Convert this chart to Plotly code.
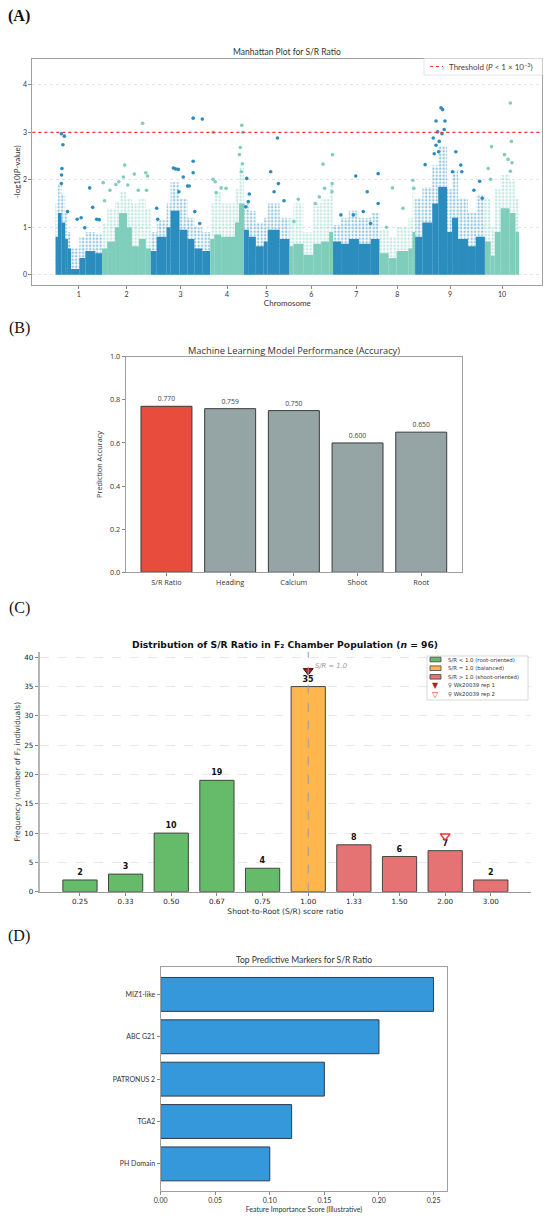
import plotly.graph_objects as go

W, H = 550, 1221


def fx(p):
    return p / W


def fy(p):
    return 1 - p / H


SANS = "Lato, 'Open Sans', sans-serif"
OPEN = "'Open Sans', sans-serif"
DJV = "'DejaVu Sans', sans-serif"
SERIF = "'Liberation Serif', 'DejaVu Serif', serif"

# ---------------- Panel A : Manhattan plot ----------------
chrom_labels = ["1", "2", "3", "4", "5", "6", "7", "8", "9", "10"]
chrom_lengths = [234, 246.5, 299.5, 170.5, 229, 220, 234, 180, 352, 172.5]

# cumulative-position segments of the dense SNP cloud (start, end, dense top, sparse top)
seg_start = [0, 12, 30, 48, 62, 78, 120, 150, 200,
             234, 260, 300, 320, 360, 385, 420, 455,
             480.5, 510, 560, 580, 625, 665, 700, 740,
             780, 800, 835, 905, 925,
             950.5, 975, 1010, 1050, 1070, 1130,
             1179.5, 1200, 1250, 1300, 1340, 1380,
             1399.5, 1440, 1480, 1530, 1590,
             1633.5, 1680, 1720, 1780, 1800,
             1813.5, 1850, 1900, 1930, 1975, 2000, 2030, 2080, 2120,
             2165.5, 2195, 2215, 2245, 2290, 2320]
seg_end = [12, 30, 48, 62, 78, 120, 150, 200, 234,
           260, 300, 320, 360, 385, 420, 455, 480.5,
           510, 560, 580, 625, 665, 700, 740, 780,
           800, 835, 905, 925, 950.5,
           975, 1010, 1050, 1070, 1130, 1179.5,
           1200, 1250, 1300, 1340, 1380, 1399.5,
           1440, 1480, 1530, 1590, 1633.5,
           1680, 1720, 1780, 1800, 1813.5,
           1850, 1900, 1930, 1975, 2000, 2030, 2080, 2120, 2165.5,
           2195, 2215, 2245, 2290, 2320, 2338]
seg_dense = [0.8, 1.3, 1.1, 0.75, 0.55, 0.12, 0.35, 0.5, 0.45,
             0.55, 0.7, 1.0, 1.3, 1.0, 0.6, 0.75, 0.55,
             0.5, 0.8, 1.0, 1.35, 0.95, 0.75, 0.55, 0.5,
             0.75, 0.85, 0.8, 1.1, 1.5,
             0.95, 0.8, 0.6, 0.7, 0.95, 0.75,
             0.6, 0.65, 0.42, 0.65, 0.7, 0.9,
             0.7, 0.65, 0.75, 0.65, 0.75,
             0.45, 0.35, 0.5, 0.55, 0.9,
             0.8, 1.1, 1.5, 1.85, 0.9, 1.2, 0.75, 0.6, 0.8,
             0.7, 0.4, 0.9, 1.4, 1.3, 0.9]
seg_sparse = [1.5, 1.9, 1.7, 1.3, 0.9, 0.55, 0.8, 0.9, 0.85,
              1.1, 1.4, 1.55, 1.75, 1.6, 1.5, 1.6, 1.4,
              0.9, 1.15, 1.5, 1.95, 1.6, 1.2, 1.0, 0.9,
              1.5, 1.75, 1.5, 1.8, 2.3,
              1.5, 1.35, 1.1, 1.2, 1.5, 1.2,
              1.2, 1.5, 0.9, 1.5, 1.6, 1.9,
              1.05, 1.2, 1.35, 1.2, 1.3,
              0.95, 0.8, 1.0, 1.2, 1.9,
              1.6, 1.85, 2.3, 2.7, 1.8, 2.2, 1.6, 1.3, 1.7,
              1.6, 1.0, 1.8, 2.1, 2.0, 1.6]

# individually visible SNPs above the cloud
snp_pos = [29, 44, 37, 32, 30, 29, 60, 109, 129, 147, 172, 187, 207, 220,
           439, 349, 342, 397, 455, 464, 240, 319, 304, 364, 274, 417, 459, 247,
           694, 740, 694, 594, 605, 619, 694, 644, 665, 674, 622, 510, 515, 702, 727,
           939, 795, 944, 932, 927, 942, 937, 794, 805, 835, 860, 810,
           1119, 964, 1085, 1124, 977, 1102, 972, 959, 1152,
           1397, 1349, 1395, 1357, 1330, 1310, 1224, 1202, 1394,
           1514, 1627, 1572, 1552, 1627, 1439, 1502, 1589,
           1699, 1669, 1752, 1802, 1807,
           1955, 1944, 1952, 1919, 1964, 1960, 1927, 1949, 1905, 1935, 1919,
           1932, 1910, 2019, 1864, 2044, 2002, 2049, 2139, 2110, 2152,
           2294, 2299, 2199, 2264, 2282, 2302, 2294, 2182, 2194]
snp_logp = [2.97, 2.92, 2.74, 2.24, 2.10, 1.92, 1.33, 1.17, 1.20, 0.99, 1.83, 1.42, 1.17, 1.16,
            3.19, 2.31, 2.06, 2.12, 2.15, 2.08, 1.94, 1.96, 1.90, 1.89, 1.78, 1.78, 1.78, 1.56,
            3.30, 3.28, 2.39, 2.25, 2.23, 2.22, 2.15, 2.06, 1.87, 1.87, 1.75, 1.40, 1.17, 1.33, 1.08,
            3.15, 3.00, 3.00, 2.68, 2.53, 2.34, 2.17, 2.01, 1.96, 1.83, 1.82, 1.73,
            2.88, 2.03, 2.17, 1.92, 1.70, 1.75, 1.54, 1.43, 1.56,
            2.53, 2.33, 1.92, 1.82, 1.64, 1.50, 1.59, 1.12, 1.75,
            2.08, 2.13, 1.75, 1.33, 1.50, 1.26, 1.26, 1.08,
            1.83, 1.00, 1.40, 1.99, 1.82,
            4.34, 3.52, 3.48, 3.24, 3.24, 3.06, 3.01, 2.97, 2.88, 2.81, 2.73,
            2.59, 2.55, 2.59, 2.32, 2.31, 2.17, 2.17, 1.97, 1.78, 1.61,
            3.62, 2.81, 2.70, 2.53, 2.43, 2.36, 2.18, 2.24, 2.01]
threshold_logp = 3.0

# ---------------- Panel B : ML accuracy ----------------
ml_traits = ["S/R Ratio", "Heading", "Calcium", "Shoot", "Root"]
ml_accuracy = [0.770, 0.759, 0.750, 0.600, 0.650]

# ---------------- Panel C : S/R distribution ----------------
sr_labels = ["0.25", "0.33", "0.50", "0.67", "0.75", "1.00", "1.33", "1.50", "2.00", "3.00"]
sr_counts = [2, 3, 10, 19, 4, 35, 8, 6, 7, 2]
rep_labels = ["1.00", "2.00"]
rep_y = [37.7, 9.5]

# ---------------- Panel D : marker importance ----------------
marker_names = ["MIZ1-like", "ABC G21", "PATRONUS 2", "TGA2", "PH Domain"]
marker_importance = [0.25, 0.20, 0.15, 0.12, 0.10]

# ======================================================
BLUE, TEAL = "#2b8cbe", "#7fcdbb"
bounds = [0]
for L in chrom_lengths:
    bounds.append(bounds[-1] + L)
chrom_centers = [(bounds[i] + bounds[i + 1]) / 2 for i in range(len(chrom_lengths))]


def ccol(p):
    for i in range(len(chrom_lengths)):
        if p < bounds[i + 1]:
            return BLUE if i % 2 == 0 else TEAL
    return TEAL


fig = go.Figure()

seg_mid = [(s + e) / 2 for s, e in zip(seg_start, seg_end)]
seg_w = [e - s for s, e in zip(seg_start, seg_end)]
seg_col = [ccol(m) for m in seg_mid]
fig.add_trace(go.Bar(x=seg_mid, y=seg_sparse, width=seg_w,
                     marker=dict(color="rgba(0,0,0,0)", line=dict(width=0),
                                 pattern=dict(shape=".", fgcolor=seg_col, size=3.5, solidity=0.4,
                                              fillmode="overlay")),
                     xaxis="x", yaxis="y", showlegend=False, hoverinfo="skip"))
fig.add_trace(go.Bar(x=seg_mid, y=seg_dense, width=seg_w,
                     marker=dict(color=seg_col, line=dict(width=0)),
                     xaxis="x", yaxis="y", showlegend=False, hoverinfo="skip"))
fig.add_trace(go.Scatter(x=snp_pos, y=snp_logp, mode="markers",
                         marker=dict(size=3.6, color=[ccol(p) for p in snp_pos], line=dict(width=0)),
                         xaxis="x", yaxis="y", showlegend=False))

# Panel B
b_colors = ["#e74c3c"] + ["#95a5a6"] * (len(ml_traits) - 1)
fig.add_trace(go.Bar(x=list(range(len(ml_traits))), y=ml_accuracy, width=0.8,
                     marker=dict(color=b_colors, line=dict(color="#3a3a3a", width=1)),
                     text=[f"{v:.3f}" for v in ml_accuracy], textposition="outside",
                     textfont=dict(family=OPEN, size=6.8, color="#444"),
                     cliponaxis=False, xaxis="x2", yaxis="y2", showlegend=False))

# Panel C
c_colors = []
for lab in sr_labels:
    v = float(lab)
    c_colors.append("#66bb6a" if v < 1 else ("#ffb74d" if v == 1 else "#e57373"))
fig.add_trace(go.Bar(x=list(range(len(sr_labels))), y=sr_counts, width=0.75,
                     marker=dict(color=c_colors, line=dict(color="#444", width=1)),
                     text=[str(c) for c in sr_counts], texttemplate="<b>%{text}</b>",
                     textposition="outside",
                     textfont=dict(family=DJV, size=8, color="#111"),
                     cliponaxis=False, xaxis="x3", yaxis="y3", showlegend=False))
rep_x = [sr_labels.index(r) for r in rep_labels]
fig.add_trace(go.Scatter(x=[rep_x[0]], y=[rep_y[0]], mode="markers",
                         marker=dict(symbol="triangle-down", size=8.5, color="#b71c1c",
                                     line=dict(color="#4a0000", width=1)),
                         xaxis="x3", yaxis="y3", showlegend=False, cliponaxis=False))
fig.add_trace(go.Scatter(x=[rep_x[1]], y=[rep_y[1]], mode="markers",
                         marker=dict(symbol="triangle-down", size=8.5, color="white",
                                     line=dict(color="#e53935", width=1.5)),
                         xaxis="x3", yaxis="y3", showlegend=False, cliponaxis=False))

# Panel D
n = len(marker_names)
fig.add_trace(go.Bar(y=list(range(n - 1, -1, -1)), x=marker_importance, width=0.8, orientation="h",
                     marker=dict(color="#3498db", line=dict(color="#2c3e50", width=1)),
                     xaxis="x4", yaxis="y4", showlegend=False))

# ---------------- axes ----------------
tickfont = dict(family=SANS, size=7, color="#333")
btickfont = dict(family=OPEN, size=7.3, color="#333")
ctickfont = dict(family=DJV, size=7.2, color="#222")
frame = dict(showline=True, linecolor="#a0a0a0", linewidth=1, mirror=True, automargin=False,
             ticks="outside", ticklen=3, tickcolor="#888", zeroline=False)

fig.update_layout(
    width=W, height=H, margin=dict(l=0, r=0, t=0, b=0, autoexpand=False), autosize=False,
    plot_bgcolor="white", paper_bgcolor="white", barmode="overlay",
    font=dict(family=SANS, color="#333"),
    xaxis=dict(domain=[fx(32.4), fx(542.3)], range=[-117, 2455], anchor="y",
               tickvals=chrom_centers, ticktext=chrom_labels, tickfont=tickfont,
               title=dict(text="Chromosome", font=dict(family=SANS, size=8, color="#333"), standoff=2),
               showgrid=False, **frame),
    yaxis=dict(domain=[fy(285), fy(58.5)], range=[-0.217, 4.557], anchor="x",
               tickvals=[0, 1, 2, 3, 4], tickfont=tickfont,
               title=dict(text="-log10(<i>P</i>-value)", font=dict(family=SANS, size=8, color="#333"), standoff=1),
               showgrid=True, gridcolor="#e4e4e4", griddash="dot", gridwidth=0.8, **frame),
    xaxis2=dict(domain=[fx(125.7), fx(462)], range=[-0.64, 4.64], anchor="y2",
                tickvals=list(range(len(ml_traits))), ticktext=ml_traits, tickfont=btickfont,
                showgrid=False, **frame),
    yaxis2=dict(domain=[fy(572.3), fy(356.7)], range=[0, 1.0], dtick=0.2, tickformat=".1f", anchor="x2",
                tickfont=btickfont,
                title=dict(text="Prediction Accuracy", font=dict(family=OPEN, size=7.3, color="#333"), standoff=6),
                showgrid=False, **frame),
    xaxis3=dict(domain=[fx(39.8), fx(531)], range=[-0.88, 9.88], anchor="y3", automargin=False,
                tickvals=list(range(len(sr_labels))), ticktext=sr_labels, tickfont=ctickfont,
                title=dict(text="Shoot-to-Root (S/R) score ratio", font=dict(family=DJV, size=7.6, color="#333"), standoff=3),
                showline=True, linecolor="#9a9a9a", linewidth=1.2, ticks="outside", ticklen=3,
                tickcolor="#888", showgrid=False, zeroline=False),
    yaxis3=dict(domain=[fy(891.7), fy(651.7)], range=[0, 40.95], dtick=5, tickfont=ctickfont, anchor="x3",
                automargin=False,
                title=dict(text="Frequency (number of F₂ individuals)", font=dict(family=DJV, size=7.6, color="#333"), standoff=3),
                showline=True, linecolor="#b5b5b5", linewidth=2, ticks="outside", ticklen=3,
                tickcolor="#888", showgrid=True, gridcolor="#e8e8e8", griddash="dash", gridwidth=0.8,
                zeroline=False),
    xaxis4=dict(domain=[fx(160.6), fx(447.2)], range=[0, 0.2625], dtick=0.05, tickformat=".2f", anchor="y4",
                tickfont=tickfont,
                title=dict(text="Feature Importance Score (Illustrative)", font=dict(family=SANS, size=7, color="#333"), standoff=3),
                showgrid=False, **frame),
    yaxis4=dict(domain=[fy(1191), fy(967.3)], range=[-0.64, 4.64], anchor="x4",
                tickvals=list(range(n - 1, -1, -1)), ticktext=marker_names, tickfont=tickfont,
                showgrid=False, **frame),
)

# ---------------- shapes ----------------
shapes = []
shapes.append(dict(type="line", xref="x domain", yref="y", x0=0, x1=1, y0=threshold_logp, y1=threshold_logp,
                   line=dict(color="#ff3030", width=1.1, dash="dot"), layer="above"))
shapes.append(dict(type="rect", xref="paper", yref="paper", x0=fx(424), x1=fx(542.3), y0=fy(75), y1=fy(58.5),
                   fillcolor="rgba(255,255,255,0.8)", line=dict(color="#dddddd", width=0.8), layer="above"))
shapes.append(dict(type="line", xref="paper", yref="paper", x0=fx(430), x1=fx(443), y0=fy(66.5), y1=fy(66.5),
                   line=dict(color="#ff3030", width=1.1, dash="dot"), layer="above"))
shapes.append(dict(type="line", xref="x3", yref="y3 domain", x0=sr_labels.index("1.00"), x1=sr_labels.index("1.00"),
                   y0=0, y1=1, line=dict(color="#9a9a9a", width=1, dash="dash"), layer="above"))
shapes.append(dict(type="rect", xref="paper", yref="paper", x0=fx(427), x1=fx(528), y0=fy(700), y1=fy(656),
                   fillcolor="rgba(255,255,255,0.9)", line=dict(color="#d0d0d0", width=0.8), layer="above"))
for yy, col in [(659.5, "#66bb6a"), (668.2, "#ffb74d"), (676.8, "#e57373")]:
    shapes.append(dict(type="rect", xref="paper", yref="paper", x0=fx(430), x1=fx(441), y0=fy(yy + 2.3), y1=fy(yy - 2.3),
                       fillcolor=col, line=dict(color="#444", width=0.8), layer="above"))
fig.update_layout(shapes=shapes)

# ---------------- annotations ----------------
ann = []


def text(x, y, s, size, family=SANS, color="#333", xanchor="center", **kw):
    ann.append(dict(x=fx(x), y=fy(y), xref="paper", yref="paper", text=s, showarrow=False,
                    font=dict(family=family, size=size, color=color), xanchor=xanchor, yanchor="middle", **kw))


text(19, 16, "<b>(A)</b>", 16, family=SERIF, color="#111")
text(19, 328, "(B)", 16, family=SERIF, color="#111")
text(19, 608, "(C)", 16, family=SERIF, color="#111")
text(19, 936, "(D)", 16, family=SERIF, color="#111")

text(287, 52, "Manhattan Plot for S/R Ratio", 8.5)
text(294, 350.7, "Machine Learning Model Performance (Accuracy)", 9.3, family=OPEN)
text(285, 644, "<b>Distribution of S/R Ratio in F₂ Chamber Population (<i>n</i> = 96)</b>", 9.2, family=DJV, color="#111")
text(304, 960.3, "Top Predictive Markers for S/R Ratio", 8.5)

text(447, 66.5, "Threshold (<i>P</i> &lt; 1 × 10<sup>−3</sup>)", 8, xanchor="left", color="#444")

ann.append(dict(x=sr_labels.index("1.00") + 0.1, y=38.5, xref="x3", yref="y3", text="<i>S/R = 1.0</i>",
                showarrow=False, font=dict(family=DJV, size=6.8, color="#999"), xanchor="left", yanchor="middle"))

legend_c = ["S/R &lt; 1.0 (root-oriented)", "S/R = 1.0 (balanced)", "S/R &gt; 1.0 (shoot-oriented)",
            "♀ Wk20039 rep 1", "♀ Wk20039 rep 2"]
for yy, s in zip([659.5, 668.2, 676.8, 685.3, 694.2], legend_c):
    text(446, yy, s, 5.4, family=DJV, xanchor="left")
text(435.5, 685.3, "▼", 8, family=DJV, color="#b71c1c")
text(435.5, 694.2, "▽", 8, family=DJV, color="#e53935")

fig.update_layout(annotations=ann)

fig.write_html("out.html", config={"displayModeBar": False},
               post_script="document.body.style.margin='0';document.body.style.padding='0';"
                           "document.body.style.overflow='hidden';")
